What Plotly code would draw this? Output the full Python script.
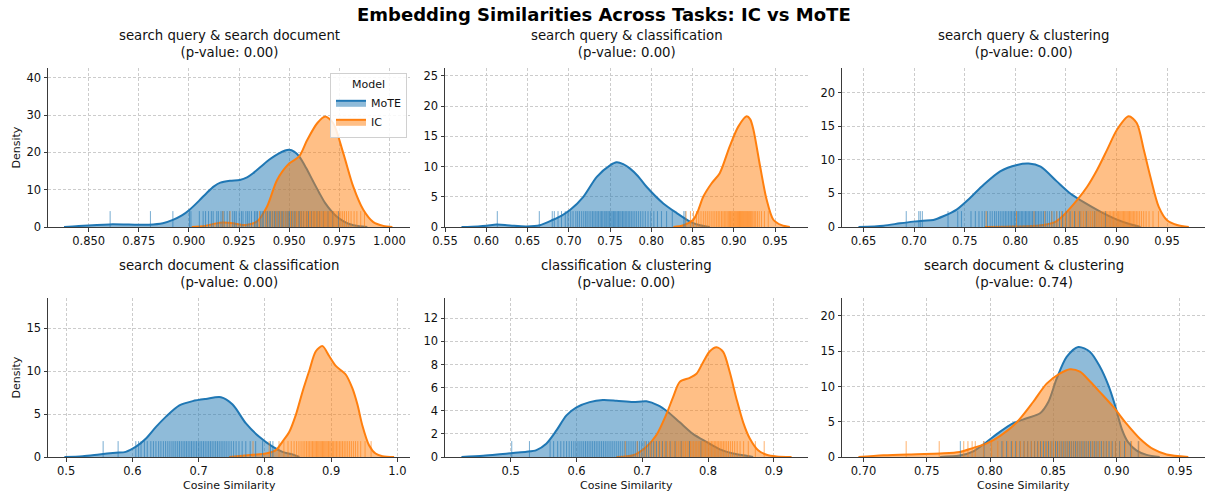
import plotly.graph_objects as go

# ---------------------------------------------------------------- data ----
panel_titles = [
    "search query & search document",
    "search query & classification",
    "search query & clustering",
    "search document & classification",
    "classification & clustering",
    "search document & clustering",
]
p_values = [0.00, 0.00, 0.00, 0.00, 0.00, 0.74]
models = ["MoTE", "IC"]

# KDE curves (x = cosine similarity, y = density)
kde1_mote_x = [0.8377, 0.845, 0.8605, 0.870, 0.880, 0.887, 0.892, 0.8965, 0.9005, 0.905, 0.909, 0.9125,
               0.9157, 0.9205, 0.9254, 0.929, 0.932, 0.936, 0.940, 0.9445, 0.948, 0.950, 0.9525, 0.955,
               0.9585, 0.962, 0.965, 0.968, 0.9737, 0.977, 0.980, 0.985, 0.989]
kde1_mote_y = [0, 0.3, 0.7, 0.65, 0.6, 1.0, 1.9, 3.1, 4.7, 7.0, 9.2, 10.9, 11.9, 12.4, 12.6, 13.3, 14.4,
               16.2, 18.0, 19.6, 20.5, 20.7, 20.2, 18.9, 15.8, 12.2, 9.2, 6.4, 2.8, 1.6, 0.8, 0.2, 0]
kde1_ic_x = [0.9014, 0.908, 0.913, 0.917, 0.922, 0.926, 0.929, 0.934, 0.939, 0.944, 0.950, 0.955,
             0.959, 0.964, 0.968, 0.972, 0.977, 0.982, 0.987, 0.992, 0.997, 1.0015]
kde1_ic_y = [0, 0.3, 0.9, 1.2, 1.0, 0.6, 0.6, 1.5, 5.5, 12.6, 17.0, 18.9, 23.3, 27.8, 29.6, 27.8, 19.8,
             10.8, 4.6, 1.3, 0.3, 0]

kde2_mote_x = [0.570, 0.590, 0.6005, 0.6126, 0.625, 0.633, 0.649, 0.665, 0.681, 0.6915, 0.7015, 0.7177,
               0.734, 0.750, 0.758, 0.766, 0.774, 0.784, 0.794, 0.8146, 0.831, 0.847, 0.859, 0.871]
kde2_mote_y = [0, 0.1, 0.2, 0.4, 0.3, 0.2, 0.1, 0.3, 1.2, 1.9, 2.8, 5.0, 8.3, 10.2, 10.7, 10.4, 9.7,
               8.4, 6.7, 3.9, 2.3, 0.9, 0.3, 0]
kde2_ic_x = [0.8268, 0.839, 0.851, 0.857, 0.863, 0.873, 0.883, 0.895, 0.9055, 0.9157, 0.920, 0.924,
             0.932, 0.9399, 0.948, 0.958, 0.968]
kde2_ic_y = [0, 0.3, 1.2, 2.8, 5.0, 7.2, 8.9, 13.3, 16.6, 18.3, 17.8, 16.0, 10.0, 4.5, 1.2, 0.3, 0]

kde3_mote_x = [0.645, 0.6698, 0.686, 0.699, 0.709, 0.719, 0.7288, 0.742, 0.755, 0.7687, 0.785, 0.8017,
               0.8132, 0.825, 0.841, 0.8544, 0.8676, 0.884, 0.9005, 0.9137, 0.9237]
kde3_mote_y = [0, 0.2, 0.55, 0.8, 0.95, 1.05, 1.6, 2.6, 4.3, 6.3, 8.3, 9.25, 9.45, 9.0, 6.8, 5.0, 3.7,
               2.3, 1.1, 0.4, 0]
kde3_ic_x = [0.770, 0.790, 0.810, 0.828, 0.840, 0.848, 0.861, 0.871, 0.8808, 0.8907, 0.9005, 0.912,
             0.920, 0.927, 0.9335, 0.9418, 0.950, 0.9599, 0.9715]
kde3_ic_y = [0, 0.05, 0.1, 0.3, 0.8, 1.8, 4.0, 6.0, 8.5, 11.5, 14.5, 16.5, 15.5, 11.5, 7.5, 3.0, 1.0,
             0.3, 0]

kde4_mote_x = [0.4975, 0.525, 0.55, 0.575, 0.590, 0.6055, 0.6206, 0.6357, 0.6508, 0.671, 0.691, 0.711,
               0.7337, 0.7513, 0.7714, 0.7915, 0.8116, 0.8266, 0.8417, 0.852]
kde4_mote_y = [0, 0.1, 0.3, 0.5, 0.6, 1.2, 2.15, 3.5, 4.7, 6.0, 6.5, 6.75, 6.95, 6.1, 3.9, 2.35, 1.2,
               0.6, 0.3, 0]
kde4_ic_x = [0.746, 0.7814, 0.8015, 0.8166, 0.8266, 0.8367, 0.8467, 0.8568, 0.8668, 0.8769, 0.887,
             0.897, 0.907, 0.922, 0.932, 0.9397, 0.947, 0.957, 0.967, 0.9774, 0.995]
kde4_ic_y = [0, 0.25, 0.4, 0.8, 1.8, 2.9, 4.9, 7.6, 10.0, 12.3, 12.9, 11.75, 10.6, 9.6, 8.0, 6.1, 3.7,
             1.4, 0.4, 0.1, 0]

kde5_mote_x = [0.425, 0.458, 0.483, 0.5035, 0.524, 0.539, 0.554, 0.5695, 0.5847, 0.600, 0.620, 0.640,
               0.6607, 0.686, 0.7063, 0.724, 0.739, 0.757, 0.777, 0.7976, 0.8179, 0.838, 0.8585, 0.8686]
kde5_mote_y = [0, 0.1, 0.23, 0.35, 0.45, 0.6, 1.15, 2.3, 3.6, 4.3, 4.75, 4.93, 4.87, 4.75, 4.82, 4.47,
               3.9, 3.0, 2.0, 1.3, 0.66, 0.3, 0.1, 0]
kde5_ic_x = [0.6607, 0.686, 0.706, 0.7215, 0.737, 0.747, 0.757, 0.7722, 0.7824, 0.7925, 0.8027, 0.8128,
             0.823, 0.833, 0.8432, 0.8534, 0.8635, 0.8762, 0.8889, 0.904, 0.927]
kde5_ic_y = [0, 0.15, 0.87, 1.9, 3.75, 5.2, 6.5, 6.85, 7.2, 8.2, 9.15, 9.5, 9.1, 7.35, 5.05, 3.0, 1.6,
             0.58, 0.2, 0.05, 0]

kde6_mote_x = [0.7605, 0.776, 0.7868, 0.797, 0.808, 0.8184, 0.829, 0.8395, 0.846, 0.8526, 0.8605,
               0.8697, 0.879, 0.8868, 0.8934, 0.8987, 0.904, 0.909, 0.9158, 0.9237, 0.934]
kde6_mote_y = [0, 0.2, 0.8, 2.1, 3.6, 4.8, 5.5, 6.2, 7.8, 11.1, 14.2, 15.6, 14.9, 12.8, 10.2, 7.35, 4.0,
               2.1, 0.9, 0.3, 0]
kde6_ic_x = [0.696, 0.7158, 0.742, 0.7605, 0.776, 0.7868, 0.797, 0.808, 0.821, 0.834, 0.8447, 0.8553,
             0.863, 0.871, 0.879, 0.8868, 0.8974, 0.9079, 0.9184, 0.929, 0.9395, 0.9566]
kde6_ic_y = [0, 0.25, 0.4, 0.5, 0.7, 1.3, 1.9, 3.0, 4.9, 7.8, 10.4, 11.85, 12.45, 12.1, 10.7, 9.2, 7.1,
             4.7, 2.6, 1.1, 0.35, 0]

# rug samples
rug1_mote = [0.8607, 0.8808, 0.8920, 0.9003, 0.9010, 0.9052, 0.9071, 0.9083, 0.9098, 0.9112, 0.9121,
             0.9139, 0.9147, 0.9160, 0.9168, 0.9176, 0.9191, 0.9203, 0.9219, 0.9228, 0.9236, 0.9251,
             0.9262, 0.9270, 0.9284, 0.9293, 0.9301, 0.9312, 0.9327, 0.9335, 0.9342, 0.9356, 0.9365,
             0.9371, 0.9384, 0.9392, 0.9401, 0.9408, 0.9417, 0.9426, 0.9431, 0.9439, 0.9446, 0.9453,
             0.9461, 0.9468, 0.9474, 0.9483, 0.9490, 0.9496, 0.9502, 0.9511, 0.9519, 0.9527, 0.9534,
             0.9546, 0.9553, 0.9561, 0.9572, 0.9587, 0.9596, 0.9611, 0.9624, 0.9639, 0.9652, 0.9671,
             0.9694, 0.9718, 0.9746]
rug1_ic = [0.9170, 0.9205, 0.9352, 0.9388, 0.9415, 0.9432, 0.9446, 0.9459, 0.9471, 0.9483, 0.9494,
           0.9507, 0.9516, 0.9528, 0.9537, 0.9545, 0.9556, 0.9563, 0.9571, 0.9579, 0.9586, 0.9592,
           0.9601, 0.9607, 0.9614, 0.9621, 0.9627, 0.9633, 0.9640, 0.9646, 0.9652, 0.9659, 0.9664,
           0.9671, 0.9677, 0.9683, 0.9689, 0.9695, 0.9702, 0.9708, 0.9714, 0.9721, 0.9728, 0.9735,
           0.9743, 0.9751, 0.9758, 0.9767, 0.9776, 0.9786, 0.9797, 0.9809, 0.9824, 0.9838, 0.9857,
           0.9876]
rug2_mote = [0.6134, 0.6643, 0.6800, 0.6825, 0.6870, 0.6912, 0.6958, 0.6991, 0.7024, 0.7052, 0.7086,
             0.7108, 0.7131, 0.7157, 0.7182, 0.7205, 0.7223, 0.7246, 0.7268, 0.7289, 0.7306, 0.7327,
             0.7344, 0.7362, 0.7381, 0.7398, 0.7413, 0.7431, 0.7449, 0.7462, 0.7478, 0.7495, 0.7511,
             0.7526, 0.7542, 0.7557, 0.7571, 0.7588, 0.7603, 0.7619, 0.7634, 0.7652, 0.7668, 0.7685,
             0.7703, 0.7721, 0.7739, 0.7758, 0.7779, 0.7801, 0.7823, 0.7847, 0.7872, 0.7899, 0.7928,
             0.7961, 0.7995, 0.8032, 0.8075, 0.8124, 0.8186, 0.8255, 0.8395, 0.8412]
rug2_ic = [0.8422, 0.8475, 0.8512, 0.8548, 0.8576, 0.8603, 0.8631, 0.8655, 0.8679, 0.8702, 0.8726,
           0.8749, 0.8771, 0.8793, 0.8812, 0.8831, 0.8852, 0.8869, 0.8886, 0.8903, 0.8919, 0.8934,
           0.8948, 0.8961, 0.8975, 0.8988, 0.9001, 0.9013, 0.9025, 0.9037, 0.9048, 0.9059, 0.9070,
           0.9081, 0.9092, 0.9103, 0.9114, 0.9125, 0.9136, 0.9147, 0.9158, 0.9169, 0.9181, 0.9193,
           0.9205, 0.9218, 0.9232, 0.9248, 0.9266, 0.9287, 0.9309, 0.9336, 0.9372, 0.9418]
rug3_mote = [0.6922, 0.7046, 0.7061, 0.7081, 0.7335, 0.7431, 0.7468, 0.7562, 0.7605, 0.7641, 0.7672,
             0.7698, 0.7724, 0.7751, 0.7772, 0.7795, 0.7812, 0.7833, 0.7851, 0.7869, 0.7886, 0.7902,
             0.7917, 0.7934, 0.7949, 0.7963, 0.7978, 0.7992, 0.8006, 0.8019, 0.8033, 0.8046, 0.8060,
             0.8073, 0.8087, 0.8101, 0.8114, 0.8128, 0.8142, 0.8156, 0.8170, 0.8185, 0.8199, 0.8214,
             0.8229, 0.8245, 0.8262, 0.8279, 0.8297, 0.8316, 0.8337, 0.8359, 0.8383, 0.8409, 0.8437,
             0.8468, 0.8502, 0.8541, 0.8586, 0.8638, 0.8702, 0.8784, 0.8891]
rug3_ic = [0.7712, 0.8012, 0.8185, 0.8291, 0.8362, 0.8411, 0.8457, 0.8496, 0.8531, 0.8563, 0.8594,
           0.8622, 0.8649, 0.8673, 0.8697, 0.8719, 0.8741, 0.8762, 0.8781, 0.8800, 0.8818, 0.8836,
           0.8853, 0.8869, 0.8885, 0.8900, 0.8915, 0.8929, 0.8943, 0.8957, 0.8970, 0.8983, 0.8996,
           0.9009, 0.9021, 0.9033, 0.9045, 0.9057, 0.9069, 0.9081, 0.9093, 0.9105, 0.9117, 0.9129,
           0.9141, 0.9154, 0.9167, 0.9181, 0.9196, 0.9212, 0.9229, 0.9248, 0.9269, 0.9293, 0.9322,
           0.9361, 0.9415]
rug4_mote = [0.5559, 0.5785, 0.6052, 0.6094, 0.6131, 0.6182, 0.6225, 0.6279, 0.6318, 0.6356, 0.6397,
             0.6431, 0.6468, 0.6502, 0.6535, 0.6566, 0.6598, 0.6627, 0.6655, 0.6684, 0.6711, 0.6738,
             0.6765, 0.6791, 0.6816, 0.6842, 0.6868, 0.6893, 0.6918, 0.6944, 0.6969, 0.6995, 0.7021,
             0.7047, 0.7073, 0.7099, 0.7126, 0.7152, 0.7178, 0.7204, 0.7231, 0.7257, 0.7284, 0.7311,
             0.7339, 0.7367, 0.7396, 0.7426, 0.7458, 0.7492, 0.7528, 0.7566, 0.7609, 0.7657, 0.7712,
             0.7778, 0.7861, 0.7965, 0.8085, 0.8121]
rug4_ic = [0.7821, 0.8065, 0.8213, 0.8287, 0.8349, 0.8398, 0.8441, 0.8479, 0.8514, 0.8546, 0.8576,
           0.8603, 0.8629, 0.8653, 0.8676, 0.8698, 0.8719, 0.8739, 0.8759, 0.8778, 0.8797, 0.8815,
           0.8833, 0.8851, 0.8869, 0.8887, 0.8905, 0.8923, 0.8941, 0.8960, 0.8979, 0.8998, 0.9018,
           0.9038, 0.9059, 0.9080, 0.9102, 0.9125, 0.9148, 0.9172, 0.9197, 0.9223, 0.9250, 0.9278,
           0.9306, 0.9336, 0.9367, 0.9402, 0.9446, 0.9512, 0.9603]
rug5_mote = [0.5015, 0.5284, 0.5598, 0.5652, 0.5713, 0.5761, 0.5807, 0.5849, 0.5888, 0.5925, 0.5959,
             0.5991, 0.6022, 0.6052, 0.6081, 0.6109, 0.6137, 0.6164, 0.6191, 0.6218, 0.6245, 0.6272,
             0.6299, 0.6326, 0.6353, 0.6381, 0.6409, 0.6437, 0.6465, 0.6494, 0.6523, 0.6552, 0.6582,
             0.6612, 0.6642, 0.6672, 0.6703, 0.6734, 0.6765, 0.6797, 0.6829, 0.6861, 0.6893, 0.6926,
             0.6959, 0.6993, 0.7027, 0.7062, 0.7098, 0.7135, 0.7174, 0.7215, 0.7259, 0.7307, 0.7361,
             0.7423, 0.7498, 0.7592, 0.7718, 0.7893]
rug5_ic = [0.6741, 0.6923, 0.7045, 0.7128, 0.7194, 0.7249, 0.7297, 0.7341, 0.7381, 0.7418, 0.7453,
           0.7486, 0.7517, 0.7547, 0.7576, 0.7604, 0.7631, 0.7657, 0.7683, 0.7708, 0.7733, 0.7757,
           0.7781, 0.7805, 0.7828, 0.7851, 0.7874, 0.7897, 0.7919, 0.7941, 0.7963, 0.7985, 0.8007,
           0.8029, 0.8051, 0.8073, 0.8095, 0.8117, 0.8139, 0.8162, 0.8185, 0.8209, 0.8233, 0.8258,
           0.8284, 0.8311, 0.8340, 0.8371, 0.8405, 0.8443, 0.8487, 0.8541, 0.8612, 0.8719, 0.8854]
rug6_mote = [0.7765, 0.7952, 0.8094, 0.8131, 0.8168, 0.8203, 0.8236, 0.8268, 0.8297, 0.8325, 0.8351,
             0.8376, 0.8399, 0.8421, 0.8442, 0.8462, 0.8481, 0.8499, 0.8517, 0.8534, 0.8551, 0.8567,
             0.8583, 0.8599, 0.8614, 0.8629, 0.8644, 0.8659, 0.8674, 0.8689, 0.8704, 0.8719, 0.8734,
             0.8749, 0.8764, 0.8779, 0.8795, 0.8811, 0.8827, 0.8844, 0.8861, 0.8879, 0.8898, 0.8918,
             0.8940, 0.8964, 0.8991, 0.9023, 0.9062, 0.9112, 0.9171]
rug6_ic = [0.7337, 0.7598, 0.7792, 0.7825, 0.7858, 0.7883, 0.7949, 0.8012, 0.8061, 0.8103, 0.8141,
           0.8176, 0.8209, 0.8240, 0.8270, 0.8299, 0.8327, 0.8354, 0.8380, 0.8405, 0.8430, 0.8454,
           0.8478, 0.8501, 0.8524, 0.8547, 0.8570, 0.8593, 0.8616, 0.8639, 0.8662, 0.8686, 0.8710,
           0.8734, 0.8759, 0.8784, 0.8810, 0.8837, 0.8865, 0.8894, 0.8924, 0.8956, 0.8990, 0.9027,
           0.9069, 0.9118, 0.9176]

# tick labels
xticks1 = [0.850, 0.875, 0.900, 0.925, 0.950, 0.975, 1.000]
xticks2 = [0.55, 0.60, 0.65, 0.70, 0.75, 0.80, 0.85, 0.90, 0.95]
xticks3 = [0.65, 0.70, 0.75, 0.80, 0.85, 0.90, 0.95]
xticks4 = [0.5, 0.6, 0.7, 0.8, 0.9, 1.0]
xticks5 = [0.5, 0.6, 0.7, 0.8, 0.9]
xticks6 = [0.70, 0.75, 0.80, 0.85, 0.90, 0.95]
yticks1 = [0, 10, 20, 30, 40]
yticks2 = [0, 5, 10, 15, 20, 25]
yticks3 = [0, 5, 10, 15, 20]
yticks4 = [0, 5, 10, 15]
yticks5 = [0, 2, 4, 6, 8, 10, 12]
yticks6 = [0, 5, 10, 15, 20]

# ------------------------------------------------------------- layout ----
W, H = 1207, 492
FONT = "DejaVu Sans"
COLORS = {"MoTE": (31, 119, 180), "IC": (255, 127, 14)}

x_ranges = [(0.8297, 1.0103), (0.550, 0.990), (0.6287, 0.9875),
            (0.4727, 1.0190), (0.4000, 0.9520), (0.6830, 0.9698)]
y_tops = [42.6, 26.3, 23.7, 18.5, 13.76, 22.55]
x_formats = [".3f", ".2f", ".2f", ".1f", ".1f", ".2f"]
col_px = [(48, 410), (445, 808), (842, 1205)]
row_px = [(68, 227), (298, 457)]

kdes = [
    ((kde1_mote_x, kde1_mote_y), (kde1_ic_x, kde1_ic_y)),
    ((kde2_mote_x, kde2_mote_y), (kde2_ic_x, kde2_ic_y)),
    ((kde3_mote_x, kde3_mote_y), (kde3_ic_x, kde3_ic_y)),
    ((kde4_mote_x, kde4_mote_y), (kde4_ic_x, kde4_ic_y)),
    ((kde5_mote_x, kde5_mote_y), (kde5_ic_x, kde5_ic_y)),
    ((kde6_mote_x, kde6_mote_y), (kde6_ic_x, kde6_ic_y)),
]
rugs = [(rug1_mote, rug1_ic), (rug2_mote, rug2_ic), (rug3_mote, rug3_ic),
        (rug4_mote, rug4_ic), (rug5_mote, rug5_ic), (rug6_mote, rug6_ic)]
xticks = [xticks1, xticks2, xticks3, xticks4, xticks5, xticks6]
yticks = [yticks1, yticks2, yticks3, yticks4, yticks5, yticks6]


def rgba(rgb, a):
    return "rgba(%d,%d,%d,%s)" % (rgb[0], rgb[1], rgb[2], a)


def rug_xy(vals, h):
    xs, ys = [], []
    for v in vals:
        xs += [v, v, None]
        ys += [0, h, None]
    return xs, ys


fig = go.Figure()
layout = dict(
    width=W, height=H, margin=dict(l=0, r=0, t=0, b=0, pad=0, autoexpand=False),
    paper_bgcolor="white", plot_bgcolor="white",
    font=dict(family=FONT, size=11, color="#111"),
    showlegend=True,
)
annotations = []

AX = dict(showgrid=True, gridcolor="#cccccc", gridwidth=0.8, griddash="3px,2px",
          showline=True, linecolor="#3a3a3a", linewidth=1, ticks="outside", ticklen=3.5,
          tickwidth=1, tickcolor="#3a3a3a", zeroline=False, mirror=False, automargin=False,
          tickfont=dict(family=FONT, size=11.5, color="#111"))

for i in range(6):
    r, c = divmod(i, 3)
    sfx = "" if i == 0 else str(i + 1)
    xa, ya = "x" + sfx, "y" + sfx
    x0, x1 = col_px[c]
    y0, y1 = row_px[r]
    dom_x = [x0 / W, x1 / W]
    dom_y = [1 - y1 / H, 1 - y0 / H]
    ytop = y_tops[i]

    for m, (cx, cy) in zip(models, kdes[i]):
        fig.add_trace(go.Scatter(
            x=cx, y=cy, mode="lines", name=m, legendgroup=m, showlegend=(i == 0),
            line=dict(color=rgba(COLORS[m], 1), width=2, shape="spline", smoothing=0.8),
            fill="tozeroy", fillcolor=rgba(COLORS[m], 0.5),
            xaxis=xa, yaxis=ya, hoverinfo="skip"))
    for m, vals in zip(models, rugs[i]):
        rx, ry = rug_xy(vals, 0.1 * ytop)
        fig.add_trace(go.Scatter(
            x=rx, y=ry, mode="lines", showlegend=False,
            line=dict(color=rgba(COLORS[m], 0.6), width=1),
            xaxis=xa, yaxis=ya, hoverinfo="skip"))

    layout["xaxis" + sfx] = dict(AX, domain=dom_x, range=list(x_ranges[i]), anchor=ya,
                                 tickvals=xticks[i],
                                 ticktext=[format(v, x_formats[i]) for v in xticks[i]])
    layout["yaxis" + sfx] = dict(AX, domain=dom_y, range=[0, ytop], anchor=xa,
                                 tickvals=yticks[i], ticktext=[str(v) for v in yticks[i]])

    annotations.append(dict(
        text="%s<br>(p-value: %.2f)" % (panel_titles[i], p_values[i]),
        x=(x0 + x1) / 2 / W, y=1 - (y0 - 6) / H, xref="paper", yref="paper",
        xanchor="center", yanchor="bottom", showarrow=False,
        font=dict(family=FONT, size=13.3, color="#111")))
    if c == 0:
        annotations.append(dict(
            text="Density", x=16 / W, y=1 - (y0 + y1) / 2 / H, xref="paper", yref="paper",
            xanchor="center", yanchor="middle", textangle=-90, showarrow=False,
            font=dict(family=FONT, size=11, color="#111")))
    if r == 1:
        annotations.append(dict(
            text="Cosine Similarity", x=(x0 + x1) / 2 / W, y=1 - 485 / H,
            xref="paper", yref="paper", xanchor="center", yanchor="middle",
            showarrow=False, font=dict(family=FONT, size=11, color="#111")))

annotations.append(dict(
    text="<b>Embedding Similarities Across Tasks: IC vs MoTE</b>",
    x=0.5, y=1 - 14.5 / H, xref="paper", yref="paper", xanchor="center", yanchor="middle",
    showarrow=False, font=dict(family=FONT, size=18, color="#000")))

layout["annotations"] = annotations
layout["legend"] = dict(
    title=dict(text="Model", side="top center", font=dict(family=FONT, size=11, color="#111")),
    x=407 / W, y=1 - 73 / H, xanchor="right", yanchor="top",
    bgcolor="rgba(255,255,255,0.85)", bordercolor="#d0d0d0", borderwidth=1,
    font=dict(family=FONT, size=11, color="#111"), itemwidth=30, tracegroupgap=0)

fig.update_layout(**layout)
fig.write_html("out.html")
